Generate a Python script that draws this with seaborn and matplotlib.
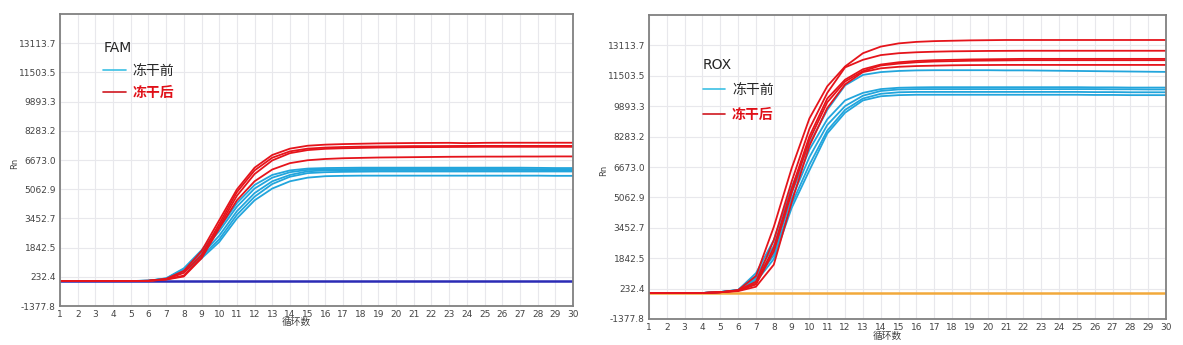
import matplotlib
matplotlib.use("Agg")
import matplotlib.pyplot as plt
from matplotlib.lines import Line2D
import seaborn as sns
import numpy as np
import pandas as pd

cycles = list(range(1, 31))
y_ticks = [-1377.8, 232.4, 1842.5, 3452.7, 5062.9, 6673.0, 8283.2, 9893.3, 11503.5, 13113.7]
y_top = 14723.9

# FAM panel curves (Rn per cycle)
fam_before = [
    [0, 0, 0, 0, 0, 15, 150, 700, 1700, 2900, 4300, 5300, 5850, 6100, 6200, 6230, 6240, 6250, 6250, 6250, 6250, 6250, 6250, 6250, 6250, 6250, 6250, 6240, 6230, 6230],
    [0, 0, 0, 0, 0, 15, 140, 650, 1600, 2750, 4100, 5100, 5700, 6000, 6130, 6160, 6170, 6180, 6180, 6180, 6180, 6180, 6180, 6180, 6180, 6180, 6175, 6170, 6170, 6170],
    [0, 0, 0, 0, 0, 15, 130, 600, 1450, 2500, 3850, 4850, 5500, 5850, 6050, 6100, 6110, 6120, 6120, 6120, 6120, 6120, 6120, 6120, 6120, 6120, 6120, 6120, 6110, 6110],
    [0, 0, 0, 0, 0, 15, 120, 550, 1350, 2300, 3650, 4650, 5350, 5750, 5950, 6000, 6020, 6030, 6040, 6040, 6040, 6040, 6040, 6040, 6040, 6040, 6040, 6040, 6040, 6040],
    [0, 0, 0, 0, 0, 15, 110, 500, 1250, 2150, 3450, 4450, 5100, 5500, 5700, 5780, 5800, 5810, 5810, 5810, 5810, 5810, 5810, 5810, 5810, 5810, 5810, 5810, 5800, 5800],
]
fam_after = [
    [0, 0, 0, 0, 0, 10, 120, 560, 1650, 3350, 5050, 6250, 6950, 7300, 7460, 7520, 7550, 7570, 7590, 7600, 7610, 7615, 7620, 7600, 7620, 7625, 7625, 7625, 7625, 7625],
    [0, 0, 0, 0, 0, 10, 100, 450, 1450, 3150, 4900, 6100, 6800, 7150, 7300, 7360, 7390, 7410, 7420, 7430, 7440, 7440, 7445, 7450, 7450, 7450, 7450, 7450, 7450, 7450],
    [0, 0, 0, 0, 0, 10, 90, 300, 1300, 3000, 4700, 5900, 6650, 7050, 7220, 7290, 7320, 7340, 7360, 7370, 7380, 7385, 7390, 7395, 7400, 7400, 7400, 7400, 7400, 7400],
    [0, 0, 0, 0, 0, 10, 80, 250, 1250, 2900, 4450, 5500, 6150, 6500, 6660, 6730, 6770, 6790, 6810, 6820, 6830, 6840, 6850, 6855, 6860, 6860, 6865, 6865, 6870, 6870],
]
fam_threshold = 0

# ROX panel curves (Rn per cycle)
rox_before = [
    [0, 0, 0, 0, 50, 160, 1050, 2800, 5600, 7900, 9700, 11000, 11550, 11700, 11760, 11790, 11800, 11800, 11800, 11800, 11790, 11790, 11780, 11770, 11760, 11750, 11740, 11730, 11720, 11710],
    [0, 0, 0, 0, 50, 160, 900, 2500, 5300, 7600, 9200, 10200, 10600, 10800, 10870, 10890, 10900, 10900, 10900, 10900, 10900, 10900, 10900, 10900, 10900, 10890, 10890, 10880, 10880, 10880],
    [0, 0, 0, 0, 50, 150, 800, 2200, 5000, 7200, 8900, 9900, 10450, 10700, 10780, 10800, 10800, 10800, 10800, 10800, 10800, 10800, 10800, 10800, 10800, 10800, 10790, 10790, 10780, 10780],
    [0, 0, 0, 0, 50, 150, 700, 2000, 4700, 6800, 8600, 9700, 10300, 10550, 10630, 10650, 10650, 10650, 10650, 10650, 10650, 10650, 10650, 10650, 10650, 10640, 10640, 10630, 10630, 10630],
    [0, 0, 0, 0, 50, 140, 600, 1800, 4500, 6500, 8450, 9550, 10200, 10420, 10480, 10500, 10500, 10500, 10500, 10500, 10500, 10500, 10500, 10500, 10500, 10490, 10490, 10480, 10480, 10480],
]
rox_after = [
    [0, 0, 0, 0, 40, 150, 900, 3500, 6600, 9250, 10950, 12000, 12700, 13050, 13220, 13300, 13340, 13360, 13380, 13390, 13400, 13400, 13400, 13400, 13400, 13400, 13400, 13400, 13400, 13400],
    [0, 0, 0, 0, 40, 140, 600, 2800, 5900, 8700, 10600, 11950, 12350, 12600, 12700, 12750, 12780, 12800, 12810, 12820, 12825, 12830, 12830, 12830, 12830, 12830, 12830, 12830, 12830, 12830],
    [0, 0, 0, 0, 40, 130, 500, 2400, 5500, 8300, 10300, 11300, 11850, 12100, 12220, 12290, 12330, 12350, 12370, 12380, 12390, 12400, 12400, 12400, 12400, 12400, 12400, 12400, 12400, 12400],
    [0, 0, 0, 0, 40, 120, 450, 2200, 5300, 8100, 10100, 11200, 11750, 12050, 12150, 12220, 12260, 12280, 12300, 12310, 12320, 12330, 12330, 12330, 12330, 12330, 12330, 12330, 12330, 12330],
    [0, 0, 0, 0, 40, 100, 330, 1500, 4800, 7800, 9800, 11050, 11700, 11900, 11980, 12020, 12040, 12060, 12070, 12075, 12080, 12080, 12080, 12080, 12080, 12080, 12080, 12080, 12080, 12080],
]
rox_threshold = 0

group_labels = ["冻干前", "冻干后"]
blue = "#22A5DC"
red = "#E5141B"
palette = {"冻干前": blue, "冻干后": red}


def to_frame(before, after):
    rows = []
    for name, curves in ((group_labels[0], before), (group_labels[1], after)):
        for i, vals in enumerate(curves):
            for c, v in zip(cycles, vals):
                rows.append({"cycle": c, "Rn": v, "group": name, "well": f"{name}{i}"})
    return pd.DataFrame(rows)


sns.set_style("white")
plt.rcParams["font.family"] = ["Noto Sans CJK SC", "DejaVu Sans"]

fig = plt.figure(figsize=(11.83, 3.45), dpi=100)
ax1 = fig.add_axes([60 / 1183, 39 / 345, 513 / 1183, 292 / 345])
ax2 = fig.add_axes([649 / 1183, 26 / 345, 517 / 1183, 304 / 345])


def draw_panel(ax, before, after, thresh, thresh_color, dye, leg_anchor, spacing):
    df = to_frame(before, after)
    ax.axhline(thresh, color=thresh_color, lw=1.8, zorder=1)
    sns.lineplot(data=df, x="cycle", y="Rn", hue="group", units="well", estimator=None,
                 palette=palette, lw=1.3, legend=False, ax=ax, zorder=2)
    ax.set_xlim(1, 30)
    ax.set_ylim(y_ticks[0], y_top)
    ax.set_xticks(cycles)
    ax.set_yticks(y_ticks)
    ax.set_yticklabels([f"{t:.1f}" for t in y_ticks])
    ax.grid(True, color="#E8E8EC", lw=0.8)
    ax.tick_params(length=0, labelsize=6.5, labelcolor="#444444", pad=3)
    for lab in ax.get_xticklabels() + ax.get_yticklabels():
        lab.set_family("DejaVu Sans")
    for s in ax.spines.values():
        s.set_color("#808080")
        s.set_linewidth(1.3)
    ax.set_xlabel("")
    ax.set_ylabel("")
    ax.text(0.46, -0.055, "循环数", transform=ax.transAxes, ha="center", va="center",
            fontsize=7, color="#444444")
    ax.text(-0.088, 0.49, "Rn", transform=ax.transAxes, ha="center", va="center",
            rotation=90, fontsize=6, color="#444444", family="DejaVu Sans")
    handles = [Line2D([], [], color="#3CC0E4", lw=1.2), Line2D([], [], color="#D01820", lw=1.2)]
    leg = ax.legend(handles, group_labels, title=dye, frameon=False, loc="upper left",
                    bbox_to_anchor=leg_anchor, fontsize=10, title_fontsize=10,
                    handlelength=1.6, handletextpad=0.5, labelspacing=spacing, alignment="left")
    leg.get_title().set_family("DejaVu Sans")
    leg.get_texts()[1].set_color("#E01018")
    leg.get_texts()[1].set_weight("bold")


draw_panel(ax1, fam_before, fam_after, fam_threshold, "#2B2BB5", "FAM", (0.06, 0.95), 0.62)
draw_panel(ax2, rox_before, rox_after, rox_threshold, "#F2A93B", "ROX", (0.08, 0.9), 0.8)

fig.savefig("out.png", dpi=100)
